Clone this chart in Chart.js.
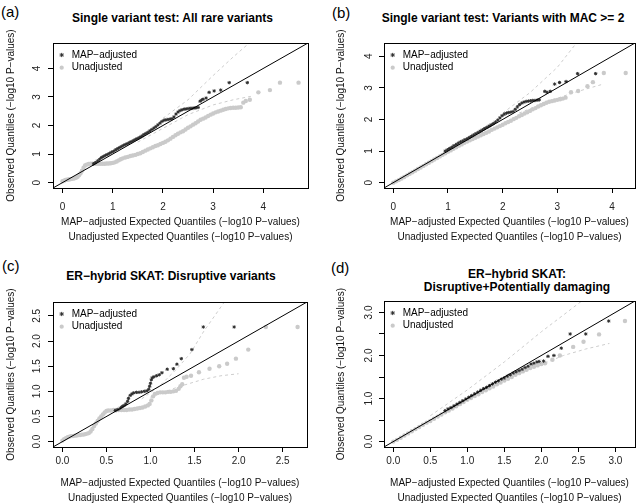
<!DOCTYPE html>
<html>
<head>
<meta charset="utf-8">
<script src="https://cdn.jsdelivr.net/npm/chart.js@4.4.1/dist/chart.umd.min.js"></script>
<style>
  body { margin: 0; background: #fff; width: 640px; height: 503px; position: relative; overflow: hidden;
         font-family: "Liberation Sans", Arial, sans-serif; }
  canvas { position: absolute; }
  .tag { position: absolute; font-size: 15px; line-height: 15px; color: #000; }
  .ttl { position: absolute; font-size: 12px; font-weight: bold; line-height: 13.4px; text-align: center;
         transform: translateX(-50%); white-space: nowrap; color: #000; }
</style>
</head>
<body>
<div class="tag" style="left:1px;top:4px">(a)</div>
<div class="tag" style="left:332px;top:5px">(b)</div>
<div class="tag" style="left:2px;top:258px">(c)</div>
<div class="tag" style="left:331px;top:260px">(d)</div>
<div class="ttl" style="left:172.5px;top:11.5px">Single variant test: All rare variants</div>
<div class="ttl" style="left:503px;top:11.5px">Single variant test: Variants with MAC &gt;= 2</div>
<div class="ttl" style="left:171px;top:270px">ER−hybrid SKAT: Disruptive variants</div>
<div class="ttl" style="left:517px;top:267.5px">ER−hybrid SKAT:<br>Disruptive+Potentially damaging</div>

<script>
const MAP_COLOR = "#2e2e2e";
const UN_COLOR = "#cacaca";
const BAND_COLOR = "#cdcdcd";

// tick values
const intTicks = [0, 1, 2, 3, 4];
const halfTicksC = [0, 0.5, 1, 1.5, 2, 2.5];
const halfTicksD = [0, 0.5, 1, 1.5, 2, 2.5, 3];

// --- (a) Single variant test: All rare variants ---
const aMap = [[0.62,0.66],[0.66,0.7],[0.7,0.76],[0.74,0.82],[0.78,0.88],[0.82,0.92],[0.86,0.96],[0.9,0.99],
  [0.94,1.03],[0.98,1.07],[1.02,1.1],[1.06,1.15],[1.1,1.19],[1.14,1.23],[1.18,1.27],[1.22,1.31],[1.26,1.34],
  [1.3,1.37],[1.34,1.41],[1.38,1.44],[1.42,1.48],[1.46,1.52],[1.5,1.55],[1.54,1.59],[1.58,1.63],[1.62,1.68],
  [1.66,1.72],[1.7,1.76],[1.74,1.81],[1.78,1.86],[1.82,1.91],[1.86,1.96],[1.9,2.02],[1.94,2.08],[1.98,2.14],
  [2.02,2.18],[2.06,2.2],[2.1,2.21],[2.14,2.22],[2.18,2.24],[2.22,2.3],[2.26,2.4],[2.3,2.47],[2.34,2.52],
  [2.38,2.55],[2.42,2.57],[2.46,2.58],[2.5,2.59],[2.54,2.6],[2.58,2.6],[2.62,2.61],[2.66,2.62],[2.7,2.63],
  [2.74,2.85],[2.77,2.89],[2.8,2.92],[2.86,2.96],[2.92,3.16],[3.02,3.21],[3.15,3.24],[3.32,3.5],[3.68,3.5]];
const aUn = [[0,0.05],[0.03,0.07],[0.06,0.09],[0.09,0.1],[0.12,0.11],[0.15,0.12],[0.18,0.13],[0.21,0.14],
  [0.24,0.15],[0.27,0.17],[0.3,0.2],[0.33,0.26],[0.36,0.33],[0.39,0.42],[0.42,0.52],[0.45,0.6],[0.48,0.63],
  [0.52,0.65],[0.56,0.66],[0.6,0.66],[0.64,0.66],[0.68,0.66],[0.72,0.66],[0.76,0.66],[0.8,0.66],[0.84,0.66],
  [0.88,0.67],[0.92,0.67],[0.96,0.68],[1.0,0.69],[1.04,0.71],[1.08,0.74],[1.12,0.78],[1.16,0.82],[1.2,0.85],
  [1.25,0.88],[1.3,0.9],[1.35,0.93],[1.4,0.95],[1.45,0.97],[1.5,1.0],[1.55,1.03],[1.6,1.07],[1.65,1.12],
  [1.7,1.16],[1.75,1.2],[1.8,1.24],[1.85,1.28],[1.9,1.31],[1.95,1.35],[2.0,1.39],[2.05,1.43],[2.1,1.48],
  [2.15,1.54],[2.2,1.6],[2.25,1.66],[2.3,1.71],[2.35,1.76],[2.4,1.8],[2.45,1.86],[2.5,1.92],[2.55,1.97],
  [2.6,2.03],[2.65,2.08],[2.7,2.14],[2.75,2.2],[2.8,2.24],[2.85,2.28],[2.9,2.33],[2.95,2.38],[3.0,2.42],
  [3.05,2.46],[3.1,2.49],[3.15,2.52],[3.2,2.55],[3.25,2.58],[3.3,2.6],[3.35,2.61],[3.4,2.62],[3.45,2.62],
  [3.5,2.63],[3.55,2.64],[3.6,2.8],[3.65,2.86],[3.73,2.9],[3.9,3.16],[4.13,3.24],[4.33,3.5],[4.7,3.5]];
const aUp = [[2.0,2.25],[2.5,2.9],[3.0,3.75],[3.4,4.4],[3.72,4.89]];
const aLo = [[1.5,1.42],[2.0,1.9],[2.5,2.38],[3.0,2.72],[3.4,2.9],[3.75,3.02]];

// --- (b) Single variant test: Variants with MAC >= 2 ---
const bMap = [[0.95,1.0],[0.99,1.04],[1.03,1.08],[1.07,1.12],[1.11,1.17],[1.15,1.21],[1.19,1.25],[1.23,1.29],
  [1.27,1.32],[1.31,1.36],[1.35,1.39],[1.39,1.43],[1.43,1.47],[1.47,1.51],[1.51,1.55],[1.55,1.59],[1.59,1.63],
  [1.63,1.67],[1.67,1.71],[1.71,1.75],[1.75,1.79],[1.79,1.83],[1.83,1.87],[1.87,1.92],[1.91,1.98],[1.95,2.05],
  [1.99,2.12],[2.03,2.17],[2.07,2.2],[2.11,2.22],[2.15,2.23],[2.19,2.25],[2.23,2.32],[2.27,2.4],[2.31,2.47],
  [2.35,2.52],[2.39,2.55],[2.43,2.57],[2.47,2.58],[2.51,2.59],[2.55,2.6],[2.59,2.6],[2.63,2.61],[2.67,2.62],
  [2.77,2.89],[2.81,2.86],[2.87,2.89],[2.95,3.12],[3.04,3.17],[3.16,3.2],[3.37,3.45],[3.7,3.45]];
const bUn = [[0,0],[0.05,0.04],[0.1,0.08],[0.15,0.13],[0.2,0.18],[0.25,0.23],[0.3,0.28],[0.35,0.33],
  [0.4,0.38],[0.45,0.43],[0.5,0.48],[0.55,0.53],[0.6,0.58],[0.65,0.63],[0.7,0.68],[0.75,0.73],[0.8,0.78],
  [0.85,0.83],[0.9,0.88],[0.95,0.93],[1.0,0.98],[1.05,1.02],[1.1,1.07],[1.15,1.12],[1.2,1.17],[1.25,1.21],
  [1.3,1.26],[1.35,1.3],[1.4,1.34],[1.45,1.38],[1.5,1.42],[1.55,1.46],[1.6,1.5],[1.65,1.54],[1.7,1.58],
  [1.75,1.62],[1.8,1.67],[1.85,1.71],[1.9,1.75],[1.95,1.79],[2.0,1.83],[2.05,1.88],[2.1,1.92],[2.15,1.96],
  [2.2,2.01],[2.25,2.05],[2.3,2.1],[2.35,2.14],[2.4,2.19],[2.45,2.23],[2.5,2.27],[2.55,2.32],[2.6,2.36],
  [2.65,2.41],[2.7,2.45],[2.75,2.49],[2.8,2.53],[2.85,2.56],[2.9,2.58],[2.95,2.6],[3.0,2.62],[3.05,2.64],
  [3.1,2.66],[3.15,2.69],[3.25,2.86],[3.38,2.9],[3.55,3.05],[3.65,3.18],[3.85,3.47],[4.25,3.47]];
const bUp = [[2.0,2.2],[2.5,2.85],[3.0,3.65],[3.35,4.42]];
const bLo = [[2.3,2.2],[2.8,2.55],[3.3,2.85],[3.8,3.1]];

// --- (c) ER-hybrid SKAT: Disruptive variants ---
const cMap = [[0.6,0.62],[0.63,0.64],[0.66,0.67],[0.68,0.7],[0.7,0.72],[0.72,0.75],[0.74,0.8],[0.75,0.86],
  [0.77,0.92],[0.79,0.95],[0.81,0.97],[0.84,0.98],[0.87,0.98],[0.9,0.99],[0.93,1.0],[0.96,1.01],[0.98,1.04],
  [0.99,1.1],[1.0,1.16],[1.01,1.23],[1.02,1.27],[1.04,1.29],[1.07,1.31],[1.1,1.33],[1.13,1.37],[1.19,1.44],
  [1.26,1.45],[1.3,1.54],[1.35,1.65],[1.47,1.83],[1.6,2.28],[1.95,2.28]];
const cUn = [[0,0.02],[0.02,0.05],[0.04,0.07],[0.06,0.09],[0.08,0.1],[0.1,0.11],[0.12,0.11],[0.14,0.12],
  [0.16,0.12],[0.18,0.13],[0.2,0.13],[0.22,0.14],[0.24,0.14],[0.26,0.15],[0.28,0.16],[0.3,0.17],[0.32,0.2],
  [0.34,0.25],[0.36,0.31],[0.38,0.36],[0.4,0.41],[0.42,0.46],[0.44,0.5],[0.46,0.54],[0.48,0.58],[0.5,0.61],
  [0.52,0.62],[0.55,0.62],[0.58,0.63],[0.61,0.63],[0.64,0.63],[0.67,0.63],[0.7,0.63],[0.73,0.63],[0.76,0.64],
  [0.79,0.64],[0.82,0.65],[0.85,0.66],[0.88,0.67],[0.91,0.68],[0.94,0.7],[0.97,0.72],[0.99,0.75],[1.01,0.82],
  [1.03,0.9],[1.05,0.95],[1.08,0.97],[1.11,0.98],[1.14,0.98],[1.17,0.98],[1.2,0.99],[1.23,0.99],[1.26,1.0],
  [1.29,1.01],[1.32,1.05],[1.34,1.1],[1.36,1.14],[1.38,1.27],[1.41,1.29],[1.46,1.31],[1.55,1.38],[1.67,1.45],
  [1.78,1.5],[1.87,1.55],[1.97,1.65],[2.11,1.83],[2.31,2.28],[2.67,2.28]];
const cUp = [[0.9,0.85],[1.1,1.1],[1.3,1.45],[1.45,1.75],[1.6,2.18],[1.84,2.78]];
const cLo = [[1.0,0.88],[1.3,1.08],[1.6,1.24],[1.8,1.31],[2.0,1.35]];

// --- (d) ER-hybrid SKAT: Disruptive+Potentially damaging ---
const dMap = [[0.7,0.72],[0.74,0.76],[0.78,0.79],[0.82,0.83],[0.86,0.87],[0.9,0.91],[0.94,0.95],[0.98,0.99],
  [1.02,1.03],[1.06,1.07],[1.1,1.11],[1.14,1.15],[1.18,1.19],[1.22,1.23],[1.26,1.26],[1.3,1.3],[1.34,1.34],
  [1.38,1.38],[1.42,1.41],[1.46,1.45],[1.5,1.48],[1.54,1.52],[1.58,1.55],[1.62,1.59],[1.66,1.62],[1.7,1.65],
  [1.74,1.68],[1.78,1.72],[1.82,1.75],[1.86,1.8],[1.9,1.82],[1.94,1.85],[1.97,1.86],[2.03,1.87],[2.09,1.98],
  [2.17,2.0],[2.27,2.17],[2.39,2.5],[2.6,2.5],[2.91,2.8]];
const dUn = [[0,0],[0.05,0.04],[0.1,0.09],[0.15,0.14],[0.2,0.19],[0.25,0.24],[0.3,0.29],[0.35,0.34],
  [0.4,0.39],[0.45,0.44],[0.5,0.48],[0.55,0.53],[0.6,0.58],[0.65,0.63],[0.7,0.68],[0.75,0.72],[0.8,0.77],
  [0.85,0.82],[0.9,0.87],[0.95,0.92],[1.0,0.97],[1.05,1.01],[1.1,1.06],[1.15,1.1],[1.2,1.15],[1.25,1.19],
  [1.3,1.24],[1.35,1.28],[1.4,1.33],[1.45,1.37],[1.5,1.42],[1.55,1.46],[1.6,1.5],[1.65,1.55],[1.7,1.59],
  [1.75,1.63],[1.8,1.67],[1.85,1.71],[1.9,1.74],[1.95,1.77],[2.0,1.8],[2.05,1.82],[2.15,1.9],[2.25,2.0],
  [2.43,2.2],[2.57,2.32],[2.78,2.49],[3.13,2.8]];
const dUp = [[0.5,0.6],[1.0,1.2],[1.5,1.85],[2.0,2.55],[2.55,3.27]];
const dLo = [[1.6,1.5],[1.9,1.72],[2.3,2.0],[2.6,2.15],[2.92,2.28]];

const xTitle = ["MAP−adjusted Expected Quantiles (−log10 P−values)", "Unadjusted Expected Quantiles (−log10 P−values)"];
const yTitle = "Observed Quantiles (−log10 P−values)";

Chart.defaults.font.family = "'Liberation Sans', Arial, sans-serif";
Chart.defaults.color = "#000";

// layout of each panel in page pixels
const panels = [
  { pos: [0, 0, 320, 250], area: { l: 53, r: 308, t: 43, b: 188 }, max: 4.7, map: aMap, un: aUn, up: aUp, lo: aLo,
    xt: intTicks, yt: intTicks, dec: 0, xPad: 8, yPad: 7.5, yTitleX: 11.7, xTitleBottom: 5 },
  { pos: [320, 0, 320, 250], area: { l: 64, r: 319, t: 43, b: 188 }, max: 4.25, map: bMap, un: bUn, up: bUp, lo: bLo,
    xt: intTicks, yt: intTicks, dec: 0, xPad: 8.5, yPad: 7, yTitleX: 21.7, xTitleBottom: 5 },
  { pos: [0, 250, 320, 253], area: { l: 53, r: 307, t: 52, b: 197 }, max: 2.67, map: cMap, un: cUn, up: cUp, lo: cLo,
    xt: halfTicksC, yt: halfTicksC, dec: 1, xPad: 3, yPad: 3.3, yTitleX: 11.7, xTitleBottom: -3 },
  { pos: [320, 250, 320, 253], area: { l: 64, r: 319, t: 51, b: 197 }, max: 3.14, map: dMap, un: dUn, up: dUp, lo: dLo,
    xt: halfTicksD, yt: halfTicksD, dec: 1, yOnlyInt: true, xPad: 3, yPad: 2.7, yTitleX: 21.7, xTitleBottom: -3 },
];

const toPts = (arr) => arr.map(([x, y]) => ({ x, y }));

// plot frame like R's box()
const boxPlugin = {
  id: "box",
  afterDatasetsDraw(chart) {
    const { ctx, chartArea: a } = chart;
    ctx.save();
    ctx.strokeStyle = "#000";
    ctx.lineWidth = 1;
    ctx.strokeRect(Math.round(a.left) + 0.5, Math.round(a.top) + 0.5,
      Math.round(a.right - a.left), Math.round(a.bottom - a.top));
    ctx.restore();
  }
};

// keep the legend inside the top-left corner of the plot
const legendInside = {
  id: "legendInside",
  afterLayout(chart) {
    const lg = chart.legend, a = chart.chartArea;
    if (!lg) return;
    lg.left = a.left + 1;
    lg.right = a.right;
    lg.top = a.top + 4.3;
    lg.bottom = a.bottom;
  }
};

panels.forEach((p) => {
  const [px, py, w, h] = p.pos;
  const cv = document.createElement("canvas");
  cv.width = w; cv.height = h;
  cv.style.left = px + "px"; cv.style.top = py + "px";
  cv.style.width = w + "px"; cv.style.height = h + "px";
  document.body.appendChild(cv);

  const lo = -0.04 * p.max, hi = 1.04 * p.max;
  const fmt = (v) => v.toFixed(p.dec);

  new Chart(cv, {
    type: "scatter",
    data: {
      datasets: [
        { label: "diag", data: [{ x: lo, y: lo }, { x: hi, y: hi }], showLine: true,
          borderColor: "#000", borderWidth: 1, pointRadius: 0, order: 0 },
        { label: "MAP−adjusted", data: toPts(p.map), pointStyle: "star", pointRadius: 1.7,
          borderColor: MAP_COLOR, backgroundColor: MAP_COLOR, borderWidth: 1, order: 1 },
        { label: "Unadjusted", data: toPts(p.un), pointStyle: "circle", pointRadius: 2.2,
          borderColor: UN_COLOR, backgroundColor: UN_COLOR, borderWidth: 0, order: 2 },
        { label: "upper", data: toPts(p.up), showLine: true, borderDash: [3, 3],
          borderColor: BAND_COLOR, borderWidth: 1, pointRadius: 0, order: 3 },
        { label: "lower", data: toPts(p.lo), showLine: true, borderDash: [3, 3],
          borderColor: BAND_COLOR, borderWidth: 1, pointRadius: 0, order: 3 },
      ],
    },
    options: {
      responsive: false, animation: false, devicePixelRatio: 1,
      layout: { padding: { left: 0, top: p.area.t, right: w - p.area.r, bottom: 0 } },
      plugins: {
        tooltip: { enabled: false },
        legend: {
          position: "chartArea", align: "start",
          labels: {
            usePointStyle: true, boxWidth: 10, boxHeight: 3, padding: 2.7,
            font: { size: 10 }, color: "#000",
            filter: (item) => item.text === "MAP−adjusted" || item.text === "Unadjusted",
          },
        },
      },
      scales: {
        x: {
          type: "linear", min: lo, max: hi,
          afterBuildTicks: (s) => { s.ticks = p.xt.map((v) => ({ value: v })); },
          afterFit: (s) => { s.height = h - p.area.b; },
          border: { display: false },
          grid: { drawOnChartArea: false, drawTicks: true, tickLength: 5, color: "#000" },
          ticks: { font: { size: 10 }, color: "#222", padding: p.xPad, maxRotation: 0,
            callback: (v) => fmt(v) },
          title: { display: true, text: xTitle, font: { size: 10, lineHeight: 1.54 }, color: "#111",
            padding: { top: 0, bottom: p.xTitleBottom } },
        },
        y: {
          type: "linear", min: lo, max: hi,
          afterBuildTicks: (s) => { s.ticks = p.yt.map((v) => ({ value: v })); },
          afterFit: (s) => { s.width = p.area.l; },
          border: { display: false },
          grid: { drawOnChartArea: false, drawTicks: true, tickLength: 5, color: "#000" },
          ticks: { font: { size: 10 }, color: "#222", padding: p.yPad, minRotation: 90, maxRotation: 90,
            crossAlign: "center",
            callback: (v) => (p.yOnlyInt && v % 1 !== 0 ? "" : fmt(v)) },
          title: { display: true, text: yTitle, font: { size: 10, lineHeight: 1.2 }, color: "#111",
            padding: { top: p.yTitleX - 6, bottom: 0 } },
        },
      },
    },
    plugins: [boxPlugin, legendInside],
  });
});
</script>
</body>
</html>
